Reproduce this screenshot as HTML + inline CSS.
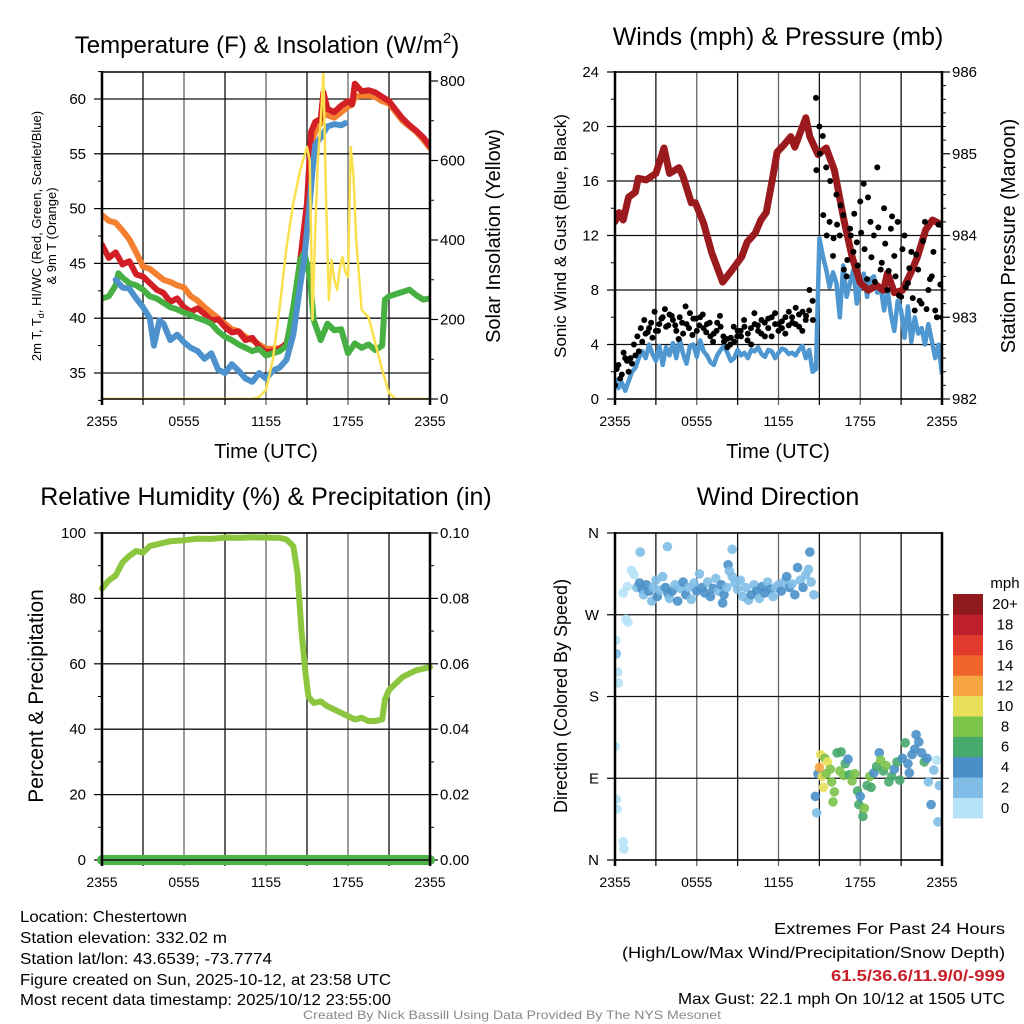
<!DOCTYPE html>
<html><head><meta charset="utf-8"><style>
html,body{margin:0;padding:0;background:#fff;}
svg{display:block;font-family:"Liberation Sans",sans-serif;}
</style></head><body>
<svg id="fig" width="1024" height="1024" viewBox="0 0 1024 1024" xmlns="http://www.w3.org/2000/svg">
<rect x="0" y="0" width="1024" height="1024" fill="#fff"/>
<g id="layer"></g>
<text x="267" y="53" font-size="24" text-anchor="middle">Temperature (F) &amp; Insolation (W/m<tspan font-size="15" dy="-10">2</tspan><tspan dy="10">)</tspan></text>
<text x="778" y="45" font-size="25" text-anchor="middle">Winds (mph) &amp; Pressure (mb)</text>
<text x="266" y="505" font-size="25" text-anchor="middle">Relative Humidity (%) &amp; Precipitation (in)</text>
<text x="778" y="505" font-size="25" text-anchor="middle">Wind Direction</text>

<text x="266" y="458" font-size="20" text-anchor="middle">Time (UTC)</text>
<text x="778" y="458" font-size="20" text-anchor="middle">Time (UTC)</text>

<text transform="translate(41,236) rotate(-90)" font-size="13" text-anchor="middle">2m T, T<tspan font-size="9" dy="3">d</tspan><tspan dy="-3">, HI/WC (Red, Green, Scarlet/Blue)</tspan></text>
<text transform="translate(56,236) rotate(-90)" font-size="13" text-anchor="middle">&amp; 9m T (Orange)</text>
<text transform="translate(500,236) rotate(-90)" font-size="20" text-anchor="middle">Solar Insolation (Yellow)</text>
<text transform="translate(566,236) rotate(-90)" font-size="17" text-anchor="middle">Sonic Wind &amp; Gust (Blue, Black)</text>
<text transform="translate(1015,236) rotate(-90)" font-size="20" text-anchor="middle">Station Pressure (Maroon)</text>
<text transform="translate(43,696) rotate(-90)" font-size="21" text-anchor="middle">Percent &amp; Precipitation</text>
<text transform="translate(567,696) rotate(-90)" font-size="18" text-anchor="middle">Direction (Colored By Speed)</text>

<text x="1005" y="588" font-size="15" text-anchor="middle">mph</text>

<g font-size="16">
<text x="20" y="922" textLength="167" lengthAdjust="spacingAndGlyphs">Location: Chestertown</text>
<text x="20" y="943" textLength="207" lengthAdjust="spacingAndGlyphs">Station elevation: 332.02 m</text>
<text x="20" y="964" textLength="252" lengthAdjust="spacingAndGlyphs">Station lat/lon: 43.6539; -73.7774</text>
<text x="20" y="985" textLength="371" lengthAdjust="spacingAndGlyphs">Figure created on Sun, 2025-10-12, at 23:58 UTC</text>
<text x="20" y="1005" textLength="371" lengthAdjust="spacingAndGlyphs">Most recent data timestamp: 2025/10/12 23:55:00</text>
</g>
<g font-size="16">
<text x="774" y="934" textLength="231" lengthAdjust="spacingAndGlyphs">Extremes For Past 24 Hours</text>
<text x="622" y="958" textLength="383" lengthAdjust="spacingAndGlyphs">(High/Low/Max Wind/Precipitation/Snow Depth)</text>
<text x="831" y="981" textLength="174" lengthAdjust="spacingAndGlyphs" fill="#c8202a" font-weight="bold">61.5/36.6/11.9/0/-999</text>
<text x="678" y="1004" textLength="327" lengthAdjust="spacingAndGlyphs">Max Gust: 22.1 mph On 10/12 at 1505 UTC</text>
</g>
<text x="303" y="1019" font-size="12" fill="#888" textLength="418" lengthAdjust="spacingAndGlyphs">Created By Nick Bassill Using Data Provided By The NYS Mesonet</text>
</svg>
<script>
// ---------- data ----------
const xTickLabels = ["2355","0555","1155","1755","2355"];
const tempTicks = [35,40,45,50,55,60];
const solarTicks = [0,200,400,600,800];
const windTicks = [0,4,8,12,16,20,24];
const presTicks = [982,983,984,985,986];
const rhTicks = [0,20,40,60,80,100];
const precipTickLabels = ["0.00","0.02","0.04","0.06","0.08","0.10"];
const dirTickLabels = ["N","E","S","W","N"];
const speedBinLabels = ["0","2","4","6","8","10","12","14","16","18","20+"];
const speedColors = ["#b5e2f7","#7fbce6","#4a90c8","#48a96d","#7cc34a","#e8e05a","#f7a541","#f0662a","#e03a2c","#c0202a","#8e1a1e"];

const tempTimes = [0,0.5,1,1.5,2,2.5,3,3.5,4,4.5,5,5.5,6,6.5,7,7.5,8,8.5,9,9.5,10,10.5,11,11.5,12,12.5,13,13.5,14,14.5,15,15.3,15.6,16,16.2,16.5,17,17.5,18,18.3,18.5,19,19.5,20,20.5,21,21.5,22,22.5,23,23.5,24];
const redT = [46.7,45.5,46.0,44.9,45.2,44.0,43.8,43.2,42.6,42.3,41.5,41.8,41.0,40.6,40.9,40.4,39.8,39.9,39.2,38.7,38.8,38.0,38.2,37.4,36.9,37.0,37.2,37.7,40.4,45.3,50.5,57.0,57.9,58.2,60.6,59.1,58.8,59.4,59.8,59.5,61.4,60.7,60.8,60.6,60.2,59.8,59.0,58.2,57.6,57.1,56.5,55.7];
const orangeT = [49.4,48.9,48.7,48.0,47.2,46.0,44.7,44.5,44.0,43.5,43.3,43.0,42.8,42.0,41.6,41.0,40.5,40.0,39.5,39.0,38.8,38.3,38.0,37.6,37.2,37.2,37.3,37.5,39.5,44.5,50.0,56.0,57.0,57.8,59.5,58.5,58.3,58.8,59.3,59.5,60.2,60.3,60.3,60.2,59.8,59.6,58.8,58.0,57.5,57.0,56.3,55.5];
const dewTimes = [0,0.5,1,1.2,1.5,2,2.5,3,3.5,4,4.5,5,5.5,6,6.5,7,7.5,8,8.5,9,9.5,10,10.5,11,11.5,12,12.5,13,13.5,14,14.5,14.8,15.2,15.5,16,16.5,17,17.5,18,18.5,19,19.5,20,20.5,20.7,21,21.5,22,22.5,23,23.5,24];
const dewT = [41.8,42.0,43.0,44.1,43.7,43.2,43.0,42.6,42.0,41.8,41.4,41.0,40.8,40.5,40.3,40.0,39.8,39.5,38.8,38.3,38.0,37.6,37.3,37.0,37.2,36.6,36.8,37.0,37.5,41.0,45.3,46.0,43.8,39.8,38.0,39.5,38.9,39.0,36.8,37.7,37.3,37.6,37.1,37.5,41.7,42.0,42.2,42.4,42.6,42.1,41.7,41.8];
const hiwcTimes = [1.0,1.5,2,2.5,3,3.5,3.8,4.2,4.5,5,5.5,6,6.5,7,7.5,8,8.5,9,9.5,10,10.5,11,11.5,12,12.5,13,13.5,14,14.5,14.8,15.2,15.4,15.6,16,16.5,17,17.5,17.8];
const hiwcT = [43.5,42.8,42.7,41.8,41.0,40.0,37.5,39.8,39.5,38.0,38.5,37.8,37.3,37.0,36.3,36.8,35.3,35.0,35.8,35.2,34.5,34.2,35.0,34.5,35.2,35.5,36.2,38.5,43.0,45.5,50.5,53.5,55.8,56.5,57.5,57.7,57.6,57.8];
const solarTimes = [0,11.0,11.5,12,12.5,13,13.5,14,14.5,15,15.2,15.4,15.6,15.8,16.0,16.2,16.4,16.6,16.8,17.0,17.2,17.4,17.6,17.8,18.0,18.2,18.4,18.6,19,19.5,20,20.5,21,21.5,24];
const solarW = [0,0,5,23,98,231,382,493,576,634,600,199,420,601,700,820,500,249,350,300,274,330,357,320,307,634,560,400,224,206,141,73,15,0,0];

const presTimes = [0,0.3,0.6,1,1.5,1.7,2.3,3.0,3.6,4.0,4.7,5.0,5.6,5.9,6.5,7.1,7.5,7.9,8.6,9.3,9.7,10.3,10.7,11.1,11.5,11.9,12.4,12.9,13.2,14.0,14.3,14.9,15.5,16.1,16.8,17.4,18.0,18.6,19.2,19.7,20.0,20.5,21.1,21.7,22.2,22.8,23.3,24];
const presMb = [984.17,984.28,984.19,984.47,984.53,984.70,984.68,984.76,985.07,984.76,984.83,984.72,984.40,984.40,984.15,983.79,983.61,983.43,983.58,983.74,983.92,984.03,984.19,984.28,984.64,985.02,985.11,985.21,985.08,985.44,985.21,984.99,985.07,984.80,984.19,983.74,983.42,983.33,983.39,983.33,983.54,983.30,983.33,983.54,983.74,984.07,984.19,984.13];
const windMph = [1.5,0.8,1.2,0.6,1.3,2.0,2.3,3.0,3.5, 3.0,4.0,3.3,2.8, 3.9,2.5,3.8,3.2, 4.1,3.0,4.4,3.3, 2.6,3.9,4.0,3.1, 4.3,3.5,3.2,2.7, 2.5,3.2,3.6,3.9, 3.4,2.8,3.0,3.6, 3.2,3.4,3.0,3.6, 3.5,3.8,3.3,3.1, 3.6,3.5,3.0,3.4, 3.7,3.6,3.3,3.4, 3.2,3.6,3.9,3.0, 3.6,2.0,2.2,11.8, 10.5,9.5,8.2,9.3, 8.5,6.0,9.8,7.5, 8.5,9.5,7.0,8.5, 9.2,7.5,8.8,9.0, 7.8,8.2,6.5,8.0, 6.2,5.0,7.2,6.5, 4.5,6.8,4.2,6.0, 4.8,5.2,4.0,5.5, 4.3,3.0,4.0,1.8];
const gustMph = [1.0,2.5,1.8,3.0,2.0,2.6,3.2,3.5,4.2, 4.8,5.2,4.5,5.0, 5.5,6.0,5.3,6.2, 5.8,5.0,6.0,4.8, 5.5,6.3,5.9,5.0, 6.0,5.2,5.5,4.6, 4.8,5.6,5.3,4.2, 3.8,4.5,4.2,5.0, 4.6,5.3,4.8,4.0, 5.5,5.0,5.8,4.6, 5.2,6.0,5.5,5.0, 5.7,4.8,5.4,6.0, 5.5,6.2,5.0,5.8, 6.5,7.2,22.1,20.0, 19.3,17.0,13.0,10.5, 15.0,12.0,13.5,9.0, 12.5,10.8,11.5,14.5, 15.8,8.8,13.0,12.0, 17.0,9.5,14.0,8.0, 12.5,10.5,13.0,7.5, 12.0,8.5,10.8,6.5, 9.5,7.0,13.0,8.0, 9.0,6.5,12.8,6.0];
const gust2Mph = [2.2,1.5,3.4,2.8,3.0,4.0,4.6,5.2, 5.8,4.9,5.6,6.4, 5.0,5.9,6.6,5.4, 6.1,5.4,4.4,5.6, 6.8,5.2,4.7,5.9, 5.4,6.2,4.9,5.6, 4.2,5.0,6.1,4.6, 4.4,4.0,5.3,4.6, 5.0,5.8,4.3,5.2, 6.3,5.4,4.8,5.6, 5.9,4.6,6.3,5.5, 5.2,6.0,6.4,5.6, 6.7,5.3,6.4,6.1, 8.0,5.8,16.8,18.0, 13.5,12.0,16.0,11.8, 12.8,14.2,9.5,10.2, 12.0,13.6,9.8,12.2, 11.0,14.8,10.4,8.6, 12.6,10.0,11.4,9.4, 13.4,9.0,7.6,11.0, 8.2,9.6,7.4,10.6, 7.2,11.6,6.6,8.8, 10.8,6.0,8.4];

const rhTimes = [0,0.5,1,1.5,2,2.5,3,3.5,4,5,6,7,8,9,10,11,12,13,13.5,14,14.3,14.6,14.9,15.1,15.5,16,16.5,17,17.5,18,18.5,19,19.5,20,20.5,20.7,21,21.5,22,22.5,23,23.5,24];
const rhPct = [83,85.5,87,91,93,94.5,94,96,96.5,97.5,97.8,98.3,98.2,98.6,98.5,98.7,98.6,98.5,98,96,88,70,57,50,48,48.5,47,46,45,44,43,43.5,42.5,42.5,43,49,52,54,56,57,58,58.5,59];
const precipIn = [0,0];

const dirTimes = [0.0,0.05,0.1,0.2,0.25,0.1,0.15,0.6,0.65,0.8,0.95,0.6,0.9,1.2,1.4,1.85,3.85,8.6,8.3,14.3,14.6,7.9,
1.6,1.8,2.0,2.1,2.3,2.5,2.7,2.8,3.0,3.1,3.3,3.5,3.7,3.9,4.0,4.2,4.4,4.6,4.8,5.0,5.2,5.4,5.6,5.8,6.0,6.2,6.4,6.6,6.8,7.0,7.2,7.4,7.6,7.8,8.0,8.2,8.4,8.6,8.8,9.0,9.2,9.4,9.6,9.8,10.0,10.2,10.4,10.6,10.8,11.0,11.2,11.4,11.6,11.8,12.0,12.2,12.4,12.6,12.8,13.0,13.2,13.4,13.6,13.8,14.0,14.2,14.4,
14.7,14.8,14.9,15.0,15.1,15.2,15.3,15.4,15.5,15.6,15.8,15.9,16.0,16.1,16.3,16.5,16.6,16.8,16.9,17.1,17.2,17.4,17.6,17.8,17.9,18.0,18.2,18.3,18.5,18.7,18.8,19.0,19.2,19.4,19.5,19.7,19.9,20.1,20.3,20.5,20.7,20.9,21.1,21.3,21.5,21.6,21.8,22.0,22.1,22.3,22.5,22.7,22.9,23.0,23.2,23.4,23.6,23.7,23.8];
const dirDeg = [125,242,227,207,195,67,56,20,12,265,262,294,301,319,314,339,345,342,325,339,292,283,
300,305,298,292,303,296,285,300,308,290,297,312,300,293,288,296,303,285,299,306,292,300,287,305,296,315,300,294,306,290,299,310,296,303,292,300,318,312,305,298,308,290,300,286,292,303,296,288,301,294,306,298,290,300,303,296,306,312,300,304,292,322,308,300,314,320,306,
70,52,95,102,116,92,80,112,95,108,100,86,64,75,118,98,119,93,106,111,94,87,95,76,61,70,48,57,82,92,80,96,103,118,110,98,104,86,92,100,108,88,112,129,106,96,116,122,138,130,118,108,112,86,61,99,110,42,82];
const dirSpeed = [0,1,3,0,0,0,0,0,0,1,1,0,0,0,0,2,2,2,4,4,2,4,
3,4,4,3,4,4,2,3,3,4,2,3,4,4,3,4,2,4,3,4,4,3,2,3,4,2,4,4,3,4,4,3,2,4,4,3,2,3,2,3,3,2,2,3,4,2,4,3,4,4,3,4,2,3,2,4,3,4,4,3,4,4,3,4,3,2,3,
4,2,4,13,10,10,10,9,8,10,8,8,8,8,7,8,6,9,6,4,6,8,8,6,6,4,6,8,6,8,6,4,6,4,8,6,8,6,6,4,6,6,4,6,4,4,4,4,4,4,4,6,4,2,4,2,0,2,2];

// ---------- helpers ----------
const NS = "http://www.w3.org/2000/svg";
const layer = document.getElementById('layer');
function mk(tag, attrs, parent) {
  const e = document.createElementNS(NS, tag);
  for (const k in attrs) e.setAttribute(k, attrs[k]);
  (parent || layer).appendChild(e);
  return e;
}
function linScale(d0, d1, r0, r1) { return v => r0 + (v - d0) / (d1 - d0) * (r1 - r0); }
function pathD(ts, vs, sx, sy) {
  let d = "";
  for (let i = 0; i < ts.length; i++) d += (i ? "L" : "M") + sx(ts[i]).toFixed(1) + "," + sy(vs[i]).toFixed(1);
  return d;
}

const P = {
  tl: {x0:102, x1:430, y0:72, y1:399},
  tr: {x0:615, x1:942, y0:72, y1:399},
  bl: {x0:102, x1:430, y0:533, y1:860},
  br: {x0:615, x1:942, y0:533, y1:860}
};

function panel(key, name, hLines) {
  const p = P[key];
  const g = mk('g', {});
  
  
  const cp = mk('clipPath', {id: 'clip-' + key}, g);
  mk('rect', {x: p.x0, y: p.y0, width: p.x1 - p.x0, height: p.y1 - p.y0}, cp);
  for (let i = 0; i <= 8; i++) {
    const x = p.x0 + (p.x1 - p.x0) * i / 8;
    const l = mk('line', {x1: x, x2: x, y1: p.y0, y2: p.y1 + 6, stroke: i % 2 ? '#111' : '#666', 'stroke-width': 1.3}, g);
    
    
  }
  hLines.forEach(y => {
    const l = mk('line', {x1: p.x0, x2: p.x1, y1: y, y2: y, stroke: '#111', 'stroke-width': 1.3}, g);
    
    
  });
  xTickLabels.forEach((lab, i) => {
    const x = p.x0 + (p.x1 - p.x0) * i / 4;
    const t = mk('text', {x: x, y: p.y1 + 27, 'font-size': 14, 'text-anchor': 'middle'}, g);
    t.textContent = lab;
    
    
  });
  return g;
}
function axisTicks(g, x, ys, dir, labels, minorYs) {
  ys.forEach((y, i) => {
    mk('line', {x1: x, x2: x + dir * 8, y1: y, y2: y, stroke: '#000', 'stroke-width': 1.2}, g);
    const t = mk('text', {x: x + dir * (dir < 0 ? 16 : 10), y: y + 5, 'font-size': 15, 'text-anchor': dir < 0 ? 'end' : 'start'}, g);
    t.textContent = labels[i];
    
    
  });
  (minorYs || []).forEach(y => mk('line', {x1: x, x2: x + dir * 4, y1: y, y2: y, stroke: '#000', 'stroke-width': 1}, g));
}
function border(g, p) {
  mk('rect', {x: p.x0, y: p.y0, width: p.x1 - p.x0, height: p.y1 - p.y0, fill: 'none', stroke: '#000', 'stroke-width': 1.5}, g);
  mk('line', {x1: p.x0, x2: p.x0, y1: p.y0 - 1, y2: p.y1 + 6, stroke: '#000', 'stroke-width': 2.5}, g);
  mk('line', {x1: p.x1, x2: p.x1, y1: p.y0 - 1, y2: p.y1 + 6, stroke: '#000', 'stroke-width': 2.5}, g);
}

// ---------- Temperature panel ----------
(function () {
  const p = P.tl;
  const sx = linScale(0, 24, p.x0, p.x1);
  const sy = linScale(35, 60, 373, 99);
  const ss = linScale(0, 800, p.y1, 81);
  const g = panel('tl', 'temperature-panel', tempTicks.map(sy));
  const minors = [];
  for (let v = 32.5; v <= 62.5; v += 2.5) if (v % 5) minors.push(sy(v));
  axisTicks(g, p.x0, tempTicks.map(sy), -1, tempTicks.map(String), minors);
  const sm = [];
  for (let v = 100; v <= 800; v += 200) sm.push(ss(v));
  axisTicks(g, p.x1, solarTicks.map(ss), 1, solarTicks.map(String), sm);
  const c = mk('g', {'clip-path': 'url(#clip-tl)'}, g);
  const series = [
    ['orange-9m-temp-line', tempTimes, orangeT, '#f47f2f', 6],
    ['red-2m-temp-line', tempTimes, redT, '#d21f26', 6],
    ['green-dewpoint-line', dewTimes, dewT, '#46b043', 6],
    ['blue-hiwc-line', hiwcTimes, hiwcT, '#4d92cc', 6]
  ];
  series.forEach(s => {
    const l = mk('path', {d: pathD(s[1], s[2], sx, sy), fill: 'none', stroke: s[3], 'stroke-width': s[4], 'stroke-linejoin': 'round', 'stroke-linecap': 'round'}, c);
    
    
  });
  const y = mk('path', {d: pathD(solarTimes, solarW, sx, ss), fill: 'none', stroke: '#fbe04d', 'stroke-width': 2.5, 'stroke-linejoin': 'round'}, c);
  
  
  border(g, p);
})();

// ---------- Winds panel ----------
(function () {
  const p = P.tr;
  const sx = linScale(0, 24, p.x0, p.x1);
  const sw = linScale(0, 24, p.y1, p.y0);
  const sp = linScale(982, 986, p.y1, p.y0);
  const g = panel('tr', 'winds-panel', windTicks.map(sw));
  const wm = [];
  for (let v = 2; v <= 22; v += 4) wm.push(sw(v));
  axisTicks(g, p.x0, windTicks.map(sw), -1, windTicks.map(String), wm);
  const pm = [];
  for (let v = 982; v < 986; v += 1) for (let k = 1; k < 6; k++) pm.push(sp(v + k / 6));
  axisTicks(g, p.x1, presTicks.map(sp), 1, presTicks.map(String), pm);
  const c = mk('g', {'clip-path': 'url(#clip-tr)'}, g);
  const wt = windMph.map((_, i) => i * 24 / (windMph.length - 1));
  const wl = mk('path', {d: pathD(wt, windMph, sx, sw), fill: 'none', stroke: '#4f97d0', 'stroke-width': 4.5, 'stroke-linejoin': 'round'}, c);
  
  
  const pl = mk('path', {d: pathD(presTimes, presMb, sx, sp), fill: 'none', stroke: '#9b1a1d', 'stroke-width': 7, 'stroke-linejoin': 'round', 'stroke-linecap': 'round'}, c);
  
  
  gustMph.forEach((v, i) => {
    const t = i * 24 / (gustMph.length - 1);
    const d = mk('circle', {cx: sx(t), cy: sw(v), r: 3, fill: '#000'}, c);
    
    
  });
  gust2Mph.forEach((v, i) => {
    const t = 0.125 + i * 23.75 / (gust2Mph.length - 1);
    const d = mk('circle', {cx: sx(t), cy: sw(v), r: 3, fill: '#000'}, c);
    
    
  });
  border(g, p);
})();

// ---------- RH panel ----------
(function () {
  const p = P.bl;
  const sx = linScale(0, 24, p.x0, p.x1);
  const sy = linScale(0, 100, p.y1, p.y0);
  const sq = linScale(0, 0.10, p.y1, p.y0);
  const g = panel('bl', 'humidity-panel', rhTicks.map(sy));
  const m = [];
  for (let v = 10; v < 100; v += 20) m.push(sy(v));
  axisTicks(g, p.x0, rhTicks.map(sy), -1, rhTicks.map(String), m);
  axisTicks(g, p.x1, rhTicks.map(sy), 1, precipTickLabels, m);
  const l = mk('path', {d: pathD(rhTimes, rhPct, sx, sy), fill: 'none', stroke: '#8cc63f', 'stroke-width': 6, 'stroke-linejoin': 'round', 'stroke-linecap': 'round'}, g);
  
  
  const pr = mk('path', {d: pathD([0, 24], precipIn, sx, sq), fill: 'none', stroke: '#4cb34a', 'stroke-width': 10, 'stroke-linecap': 'round'}, g);
  
  
  border(g, p);
  mk('line', {x1: p.x0, x2: p.x1, y1: p.y1, y2: p.y1, stroke: '#222', 'stroke-width': 1.3}, g);
})();

// ---------- Wind direction panel ----------
(function () {
  const p = P.br;
  const sx = linScale(0, 24, p.x0, p.x1);
  const sy = linScale(0, 360, p.y1, p.y0);
  const dirVals = [0, 90, 180, 270, 360];
  const g = panel('br', 'wind-direction-panel', dirVals.map(sy));
  axisTicks(g, p.x0, dirVals.map(sy), -1, dirTickLabels, []);
  const c = mk('g', {'clip-path': 'url(#clip-br)'}, g);
  dirDeg.forEach((v, i) => {
    const bin = Math.min(10, Math.floor(dirSpeed[i] / 2));
    const d = mk('circle', {cx: sx(dirTimes[i]), cy: sy(v), r: 4.8, fill: speedColors[bin], 'fill-opacity': 0.9}, c);
    
    
  });
  border(g, p);
  mk('line', {x1: p.x1, x2: p.x1 + 7, y1: sy(270), y2: sy(270), stroke: '#000'}, g);
  mk('line', {x1: p.x1, x2: p.x1 + 7, y1: sy(180), y2: sy(180), stroke: '#000'}, g);
  mk('line', {x1: p.x1, x2: p.x1 + 7, y1: sy(90), y2: sy(90), stroke: '#000'}, g);
  const cb = mk('g', {});
  
  
  const top = 594, bot = 818, h = (bot - top) / speedColors.length;
  speedColors.forEach((col, i) => {
    const y = bot - (i + 1) * h;
    const r = mk('rect', {x: 953, y: y, width: 30, height: h + 0.3, fill: col}, cb);
    
    
    const t = mk('text', {x: 1005, y: y + h / 2 + 5, 'font-size': 15, 'text-anchor': 'middle'}, cb);
    t.textContent = speedBinLabels[i];
    
    
  });
})();
</script>
</body></html>
